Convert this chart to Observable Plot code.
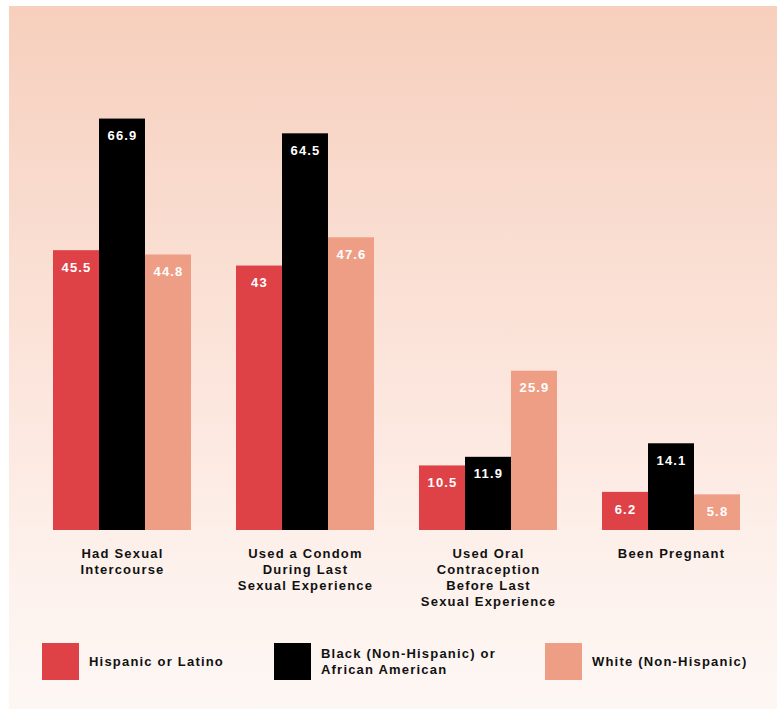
<!DOCTYPE html>
<html>
<head>
<meta charset="utf-8">
<script src="https://cdn.jsdelivr.net/npm/d3@7"></script>
<script src="https://cdn.jsdelivr.net/npm/@observablehq/plot@0.6"></script>
<style>
  html, body { margin: 0; padding: 0; background: #ffffff; }
  #wrap { position: relative; width: 777px; height: 709px; overflow: hidden;
          font-family: "Liberation Sans", Arial, Helvetica, sans-serif; }
  #bg { position: absolute; left: 9px; top: 6px; right: 0; bottom: 0;
        background: linear-gradient(to bottom, #f7cfbd 0%, #f9dccf 30%, #fce6dd 55%, #fdf1ec 80%, #fdf7f4 100%); }
  #chart { position: absolute; left: 0; top: 0; }
  .leg { position: absolute; font-size: 13px; font-weight: bold; letter-spacing: 1.2px; color: #111; line-height: 16px; }
  .sw { position: absolute; width: 37px; height: 37px; top: 643px; }
</style>
</head>
<body>
<div id="wrap">
  <div id="bg"></div>
  <div id="chart"></div>
  <div id="legend"></div>
</div>
<script>
const categories = ["Had Sexual\nIntercourse", "Used a Condom\nDuring Last\nSexual Experience", "Used Oral\nContraception\nBefore Last\nSexual Experience", "Been Pregnant"];
const groups = ["Hispanic or Latino", "Black (Non-Hispanic) or\nAfrican American", "White (Non-Hispanic)"];
const hispanic = [45.5, 43, 10.5, 6.2];
const black = [66.9, 64.5, 11.9, 14.1];
const white = [44.8, 47.6, 25.9, 5.8];
const colors = ["#de4247", "#000000", "#ef9e86"];

const series = [hispanic, black, white];
const data = [];
categories.forEach((c, i) => {
  groups.forEach((g, j) => {
    data.push({category: c, group: g, value: series[j][i]});
  });
});

const chart = Plot.plot({
  width: 777,
  height: 620,
  marginLeft: 53,
  marginRight: 36,
  marginTop: 38,
  marginBottom: 90,
  style: {background: "transparent", fontFamily: "'Liberation Sans', Arial, Helvetica, sans-serif", letterSpacing: "1.2px", overflow: "visible"},
  fx: {domain: categories, paddingInner: 0.245, paddingOuter: 0, label: null},
  x: {domain: groups, padding: 0, axis: null},
  y: {domain: [0, 80], axis: null},
  color: {domain: groups, range: colors},
  marks: [
    Plot.barY(data, {fx: "category", x: "group", y: "value", fill: "group"}),
    Plot.text(data, {fx: "category", x: "group", y: "value", text: d => String(d.value), dy: 17, fill: "white", fontWeight: "bold", fontSize: 13}),
    Plot.axisFx({anchor: "bottom", tickSize: 0, tickPadding: 16, fontSize: 13, fontWeight: "bold", lineHeight: 1.23, fill: "#111", label: null})
  ]
});
document.getElementById("chart").appendChild(chart);

// legend
const legend = document.getElementById("legend");
const swX = [42, 274, 545];
const txX = [89, 321, 592];
groups.forEach((g, j) => {
  const sw = document.createElement("div");
  sw.className = "sw";
  sw.style.left = swX[j] + "px";
  sw.style.background = colors[j];
  legend.appendChild(sw);
  const t = document.createElement("div");
  t.className = "leg";
  const lines = g.split("\n");
  t.style.left = txX[j] + "px";
  t.style.top = (662 - lines.length * 8) + "px";
  t.innerHTML = lines.join("<br>");
  legend.appendChild(t);
});
</script>
</body>
</html>
